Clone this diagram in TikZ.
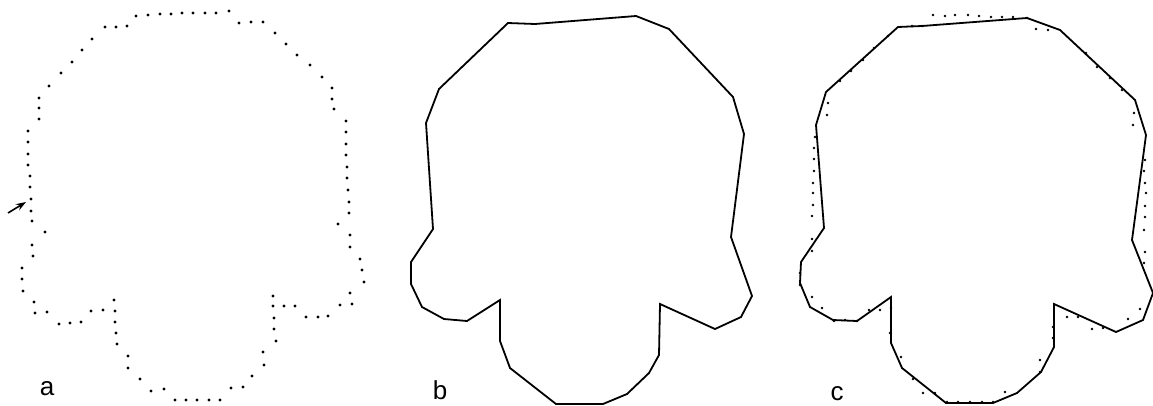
\documentclass[tikz,border=0pt]{standalone}
\usepackage{fontspec}
\setmainfont{Liberation Sans}
\usetikzlibrary{arrows.meta}

\begin{document}
\begin{tikzpicture}[x=1pt, y=-1pt,
    outline/.style={draw=black, line width=1.8pt, line join=miter},
    sample/.style={fill=black},
    panelname/.style={font=\fontsize{26}{26}\selectfont, anchor=base, inner sep=1pt},
    >={Stealth[length=10pt, width=7pt]}
  ]
  \useasboundingbox (0,0) rectangle (1153,405);
  % a: boundary samples
  \foreach \x/\y in {136/16,148/15,160/14,171/14,182/13,193/13,205/13,216/13,229/11,
      239/23,251/22,263/22,275/33,286/44,297/55,310/65,322/77,332/88,332/99,334/109,
      346/121,346/132,346/144,346/155,347/167,347/178,348/190,349/202,349/213,338/224,
      350/235,350/247,360/259,362/270,364/282,350/293,352/304,340/305,328/316,318/317,
      306/317,295/306,284/306,273/296,273/306,274/318,274/329,276/341,263/352,264/365,
      252/376,243/387,231/388,220/400,209/400,197/400,186/400,175/400,164/389,151/391,
      140/379,128/368,128/356,117/344,116/333,115/322,115/311,114/300,103/310,91/311,
      81/322,70/323,59/324,47/312,35/313,34/302,23/291,22/279,22/268,33/256,32/245,
      45/232,32/221,31/211,31/199,30/187,30/176,28/165,28/154,28/142,28/131,39/119,
      39/108,39/98,49/86,61/73,72/62,82/50,92/39,105/27,116/27,127/26}
    \fill[sample] (\x,\y) circle[radius=1.7pt];
  % start marker
  \coordinate (start) at (26,202);
  \coordinate (tail) at (8,213);
  \draw[->, line width=1.6pt] (tail) -- (start);
  % b: fitted polygon
  \draw[outline] (508,23) -- (535,24) -- (636,16) -- (669,29) -- (733,97) -- (744,134)
    -- (731,237) -- (752,296) -- (741,317) -- (715,329) -- (660,304) -- (659,355)
    -- (649,373) -- (627,394) -- (603,404) -- (556,404) -- (510,368) -- (500,341)
    -- (500,300) -- (467,321) -- (444,319) -- (422,307) -- (411,284) -- (411,262)
    -- (433,229) -- (426,123) -- (439,89) -- cycle;
  % c: polygon over samples
  \draw[outline] (898,27) -- (922,26) -- (1027,18) -- (1060,30) -- (1135,100) -- (1146,135)
    -- (1132,240) -- (1153,293) -- (1143,320) -- (1116,332) -- (1054,304) -- (1054,347)
    -- (1041,372) -- (1017,393) -- (993,403) -- (946,403) -- (902,368) -- (891,343)
    -- (891,297) -- (857,321) -- (833,320) -- (810,307) -- (800,283) -- (801,262)
    -- (824,228) -- (816,125) -- (826,92) -- cycle;
  \foreach \x/\y in {933/15,945/16,955/15,968/15,979/16,991/17,1002/17,1013/17,1027/18,
      1036/29,1048/30,1086/53,1097/67,1110/78,1122/90,1134/113,1133/125,
      1145/160,1144/171,1145/183,1146/193,1145/206,1145/217,1144/230,1145/252,1144/263,
      1140/309,1128/319,1103/328,1092/329,1078/317,1067/317,1053/327,1053/338,1040/360,
      1040/372,1005/392,993/402,982/402,970/402,958/402,947/402,935/393,923/393,913/379,
      901/357,890/333,891/308,880/310,869/310,857/321,845/320,834/321,822/308,812/297,
      800/285,800/273,812/251,812/239,812/216,813/205,813/193,813/183,814/171,814/159,
      814/148,815/137,827/115,828/103,840/81,851/71,863/60,874/48,888/36,912/26,922/26}
    \fill[sample] (\x,\y) circle[radius=1.3pt];
  % panel names
  \node[panelname] (na) at (47,395) {a};
  \node[panelname] (nb) at (440,399) {b};
  \node[panelname] (nc) at (837,400) {c};
\end{tikzpicture}
\end{document}
